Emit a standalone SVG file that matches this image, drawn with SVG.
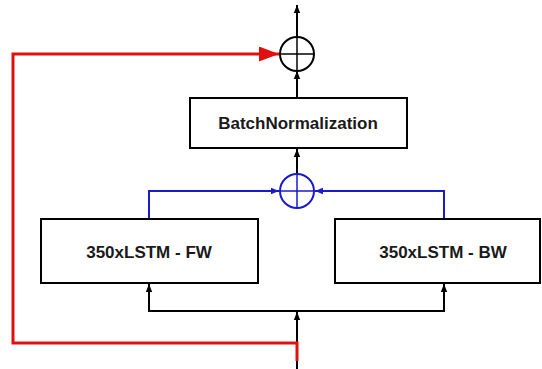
<svg xmlns="http://www.w3.org/2000/svg" width="542" height="369" viewBox="0 0 542 369">
<defs>
<style>
.box{fill:#fff;stroke:#000;stroke-width:2}
.lbl{font-family:"Liberation Sans",Arial,sans-serif;font-weight:bold;font-size:17px;fill:#1a1a1a;text-anchor:middle;dominant-baseline:central}
.blk{fill:none;stroke:#000;stroke-width:2}
.blu{fill:none;stroke:#1a1acc;stroke-width:2}
.red{fill:none;stroke:#e01010;stroke-width:3}
</style>
<marker id="ab" viewBox="0 0 10 10" refX="10" refY="5" markerWidth="8" markerHeight="8" markerUnits="userSpaceOnUse" orient="auto"><path d="M0,1 L10,5 L0,9 z" fill="#000"/></marker>
<marker id="au" viewBox="0 0 10 10" refX="10" refY="5" markerWidth="8" markerHeight="8" markerUnits="userSpaceOnUse" orient="auto"><path d="M0,1 L10,5 L0,9 z" fill="#1a1acc"/></marker>
<marker id="ar" viewBox="0 0 10 10" refX="10" refY="5" markerWidth="20" markerHeight="15" markerUnits="userSpaceOnUse" orient="auto" preserveAspectRatio="none"><path d="M0,0 L10,5 L0,10 z" fill="#e01010"/></marker>
</defs>
<g id="connectors">
<line class="blk" x1="297" y1="36" x2="297" y2="5" marker-end="url(#ab)"/>
<line class="blk" x1="297" y1="98" x2="297" y2="71" marker-end="url(#ab)"/>
<line class="blk" x1="297" y1="173" x2="297" y2="149" marker-end="url(#ab)"/>
<polyline class="blu" points="149,219 149,191 279,191" marker-end="url(#au)"/>
<polyline class="blu" points="444,219 444,191 315,191" marker-end="url(#au)"/>
<polyline class="blk" points="149,294 149,311 444,311 444,294"/>
<line class="blk" x1="149" y1="296" x2="149" y2="284" marker-end="url(#ab)"/>
<line class="blk" x1="444" y1="296" x2="444" y2="284" marker-end="url(#ab)"/>
<line class="blk" x1="297" y1="369" x2="297" y2="312" marker-end="url(#ab)"/>
<polyline class="red" points="297,361 297,343 13,343 13,54 279,54" marker-end="url(#ar)"/>
</g>
<g id="sum-top">
<circle cx="297" cy="54" r="17" fill="none" stroke="#000" stroke-width="2"/>
<line x1="280" y1="54" x2="314" y2="54" stroke="#000" stroke-width="1.5"/>
<line x1="297" y1="37" x2="297" y2="71" stroke="#000" stroke-width="1.5"/>
</g>
<g id="batchnorm">
<rect class="box" x="190" y="98" width="217" height="50"/>
<text class="lbl" x="298" y="123">BatchNormalization</text>
</g>
<g id="sum-blue">
<circle cx="297" cy="191" r="17" fill="none" stroke="#1a1acc" stroke-width="2"/>
<line x1="280" y1="191" x2="314" y2="191" stroke="#1a1acc" stroke-width="1.5"/>
<line x1="297" y1="174" x2="297" y2="208" stroke="#1a1acc" stroke-width="1.5"/>
</g>
<g id="lstm-fw">
<rect class="box" x="41" y="219" width="217" height="64"/>
<text class="lbl" x="149" y="252">350xLSTM - FW</text>
</g>
<g id="lstm-bw">
<rect class="box" x="335" y="219" width="205" height="64"/>
<text class="lbl" x="443" y="252">350xLSTM - BW</text>
</g>
</svg>
